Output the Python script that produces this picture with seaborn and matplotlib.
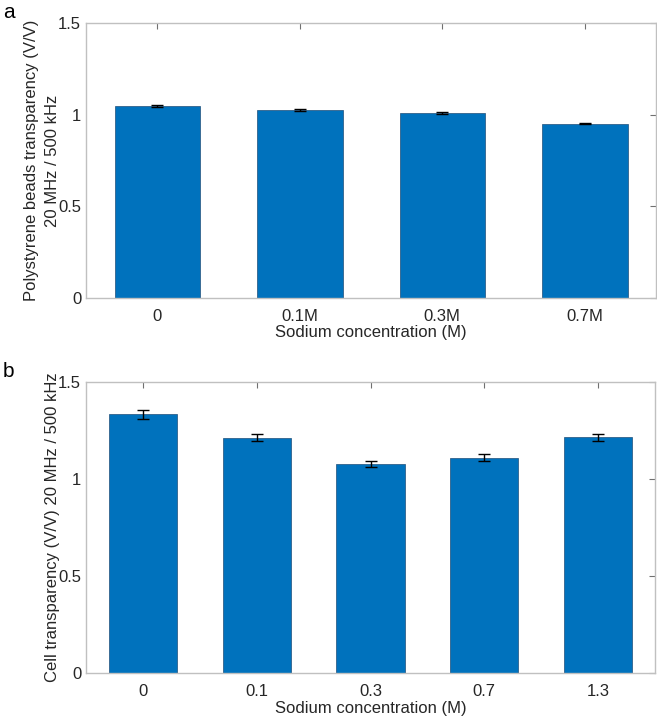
import numpy as np
import pandas as pd
import seaborn as sns
import matplotlib.pyplot as plt

# panel a: polystyrene beads
beads_labels = ['0', '0.1M', '0.3M', '0.7M']
beads_values = [1.047, 1.026, 1.007, 0.951]
beads_err = [0.006, 0.005, 0.006, 0.004]

# panel b: cells
cell_labels = ['0', '0.1', '0.3', '0.7', '1.3']
cell_values = [1.333, 1.213, 1.079, 1.110, 1.214]
cell_err = [0.022, 0.017, 0.016, 0.017, 0.020]

BAR_COLOR = '#0072BD'
EDGE = '#1f4e79'
BOX = '#c0c0c0'
TXT = '#262626'

sns.set_style('white')
plt.rcParams['font.family'] = ['Liberation Sans', 'DejaVu Sans']
plt.rcParams['font.size'] = 12

fig = plt.figure(figsize=(6.57, 7.16), dpi=100)
ax_a = fig.add_axes([86/657, 418/716, 570/657, 275/716])
ax_b = fig.add_axes([86/657, 43/716, 569/657, 291/716])


def draw(ax, labels, values, err, ylabel):
    df = pd.DataFrame({'conc': labels, 'val': values})
    sns.barplot(data=df, x='conc', y='val', color=BAR_COLOR, saturation=1,
                width=0.6, edgecolor=EDGE, linewidth=0.5, ax=ax)
    ax.errorbar(np.arange(len(values)), values, yerr=err, fmt='none',
                ecolor='black', elinewidth=1, capsize=4, capthick=1)
    ax.set_xlim(-0.5, len(values) - 0.5)
    ax.set_ylim(0, 1.5)
    ax.set_yticks([0, 0.5, 1, 1.5])
    ax.set_yticklabels(['0', '0.5', '1', '1.5'])
    ax.set_xlabel('Sodium concentration (M)', color=TXT, fontsize=12, labelpad=1)
    ax.set_ylabel(ylabel, color=TXT, fontsize=12, labelpad=-1, linespacing=1.5)
    ax.tick_params(direction='in', top=True, right=True, length=4,
                   color='#707070', labelcolor=TXT, labelsize=12)
    ax.tick_params(axis='x', pad=8)
    for s in ax.spines.values():
        s.set_color(BOX)
        s.set_linewidth(1)
        s.set_visible(True)


draw(ax_a, beads_labels, beads_values, beads_err,
     'Polystyrene beads transparency (V/V)\n20 MHz / 500 kHz')
draw(ax_b, cell_labels, cell_values, cell_err,
     'Cell transparency (V/V) 20 MHz / 500 kHz')

fig.text(3/657, 1 - 12/716, 'a', fontsize=15, color='black', va='center')
fig.text(3/657, 1 - 372/716, 'b', fontsize=15, color='black', va='center')

plt.savefig('out.png', dpi=100)
